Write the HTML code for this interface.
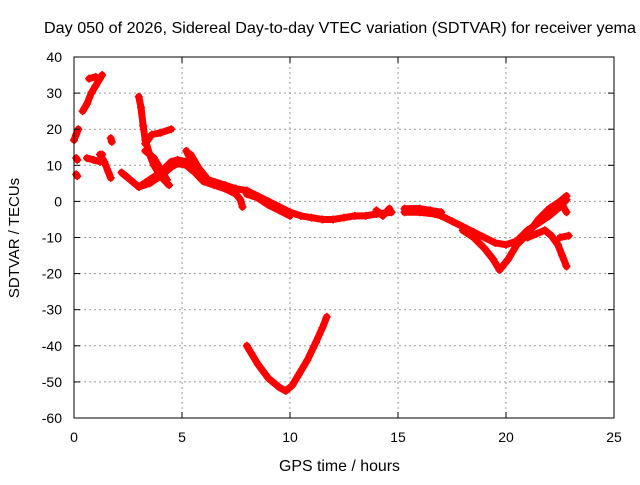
<!DOCTYPE html>
<html><head><meta charset="utf-8"><style>
body{margin:0;background:#fff;}
svg text{font-family:"Liberation Sans",sans-serif;font-size:14px;fill:#000;}
</style></head><body>
<svg id="chart" width="640" height="480" xmlns="http://www.w3.org/2000/svg">
<rect width="640" height="480" fill="#fff"/>
<g id="grid"></g>
<g id="series"></g>
<rect x="74" y="57" width="540" height="361" fill="none" stroke="#000" stroke-width="1"/>
<g id="ticks"></g>
<text x="44" y="33" style="font-size:16px" textLength="592" lengthAdjust="spacingAndGlyphs">Day 050 of 2026, Sidereal Day-to-day VTEC variation (SDTVAR) for receiver yema</text>
<text x="279" y="471" style="font-size:16px" textLength="121" lengthAdjust="spacingAndGlyphs">GPS time / hours</text>
<text transform="translate(19,238) rotate(-90)" text-anchor="middle" style="font-size:15px">SDTVAR / TECUs</text>
</svg>
<script>
const xTicks=[0,5,10,15,20,25];
const yTicks=[40,30,20,10,0,-10,-20,-30,-40,-50,-60];
const traces=[
 [[0,17],[0.1,18.5],[0.2,20]],
 [[0.4,25],[0.6,27],[0.8,30],[1.0,32],[1.3,35]],
 [[0.7,34],[1.0,34.5]],
 [[0.6,12],[0.9,11.5],[1.2,11],[1.3,13]],
 [[1.2,13],[1.4,11],[1.6,8],[1.7,6.5]],
 [[0.1,7.5],[0.15,7]],
 [[0.1,12],[0.15,11.5]],
 [[1.7,17.5],[1.75,16.5]],
 [[2.2,8],[2.6,6],[3.0,4],[3.5,5],[4.0,7],[4.5,9.5],[4.8,10.5],[5.2,10],[5.6,8],[6,5.5],[6.5,4.5],[7,4],[7.5,3.5],[8,3],[8.5,1.5],[9,0],[9.5,-1.5],[10,-3],[10.5,-4],[11,-4.5],[11.5,-5],[12,-5],[12.5,-4.5],[13,-4],[13.5,-4],[14,-3.5],[14.7,-3]],
 [[3.0,4],[3.5,6],[4.0,8],[4.5,11],[4.8,11.5],[5.2,11]],
 [[14,-2.5],[14.3,-4],[14.6,-2]],
 [[15.3,-3],[16,-3],[16.7,-3.5],[17,-4],[17.5,-5.5],[18,-7],[18.5,-8.5],[19,-10],[19.5,-11.5],[20,-12],[20.5,-11],[21,-8],[21.5,-6],[22,-4],[22.5,-1.5],[22.8,0.5]],
 [[15.3,-2],[16,-2],[16.5,-2.5],[17,-3]],
 [[3.0,29],[3.1,26],[3.2,21],[3.3,17],[3.5,13],[3.7,10],[4.0,7],[4.4,4.5]],
 [[3.3,16],[3.6,18.5],[4.0,19],[4.5,20]],
 [[3.3,14],[3.7,12],[4.0,9],[4.3,6]],
 [[5.2,14],[5.4,11.5],[5.6,9],[6,6],[6.5,4.5],[7,3.5],[7.5,2],[7.7,0.5],[7.8,-1.5]],
 [[5.4,13],[5.8,9],[6.2,6],[7,4.5],[7.5,3.5]],
 [[8,2],[8.5,1],[9,-1],[9.5,-2.5],[10,-4]],
 [[8,-40],[8.5,-45],[9,-49],[9.5,-51.5],[9.8,-52.5],[10.1,-51],[10.4,-48],[10.8,-44],[11.2,-39],[11.5,-35],[11.7,-32]],
 [[18,-8],[18.5,-10],[19,-13],[19.4,-16],[19.7,-19],[20.1,-16],[20.5,-12],[21,-9],[21.5,-5],[22,-2],[22.5,0],[22.8,1.5]],
 [[21,-10],[21.4,-9],[21.8,-8],[22.1,-9.5],[22.4,-12],[22.6,-15],[22.8,-18]],
 [[22.5,-10],[22.9,-9.5]],
 [[22.6,-1],[22.8,-3]]
];
const L=74,R=614,T=57,B=418;
const xs=v=>L+(v-0)/25*(R-L);
const ys=v=>B-(v+60)/100*(B-T);
const NS='http://www.w3.org/2000/svg';
function mk(tag,attrs,parent){const e=document.createElementNS(NS,tag);for(const k in attrs)e.setAttribute(k,attrs[k]);parent.appendChild(e);return e;}
const grid=document.getElementById('grid'),ticks=document.getElementById('ticks'),ser=document.getElementById('series');
xTicks.forEach(t=>{const x=xs(t);
 if(t>0&&t<25){const g=mk('line',{x1:x,x2:x,y1:T,y2:B,stroke:'#999','stroke-dasharray':'2,3'},grid);
 
 }
 mk('line',{x1:x,x2:x,y1:B,y2:B-6,stroke:'#000'},ticks);mk('line',{x1:x,x2:x,y1:T,y2:T+6,stroke:'#000'},ticks);
 const tx=mk('text',{x:x,y:B+24,'text-anchor':'middle'},ticks);tx.textContent=t;
 
 });
yTicks.forEach(t=>{const y=ys(t);
 if(t>-60&&t<40){const g=mk('line',{x1:L,x2:R,y1:y,y2:y,stroke:'#999','stroke-dasharray':'2,3'},grid);
 
 }
 mk('line',{x1:L,x2:L+6,y1:y,y2:y,stroke:'#000'},ticks);mk('line',{x1:R,x2:R-6,y1:y,y2:y,stroke:'#000'},ticks);
 const tx=mk('text',{x:L-12,y:y+5,'text-anchor':'end'},ticks);tx.textContent=t;
 
 });
traces.forEach(tr=>{
 if(tr.length>1){const p=mk('polyline',{points:tr.map(d=>xs(d[0])+','+ys(d[1])).join(' '),fill:'none',stroke:'#f00','stroke-width':7,'stroke-linejoin':'round','stroke-linecap':'round'},ser);
 
 }
 tr.forEach(d=>{const x=xs(d[0]),y=ys(d[1]);
  const m=mk('path',{d:`M${x-4},${y}H${x+4}M${x},${y-4}V${y+4}`,stroke:'#f00','stroke-width':1.5},ser);
  
  });
});
</script>
</body></html>
